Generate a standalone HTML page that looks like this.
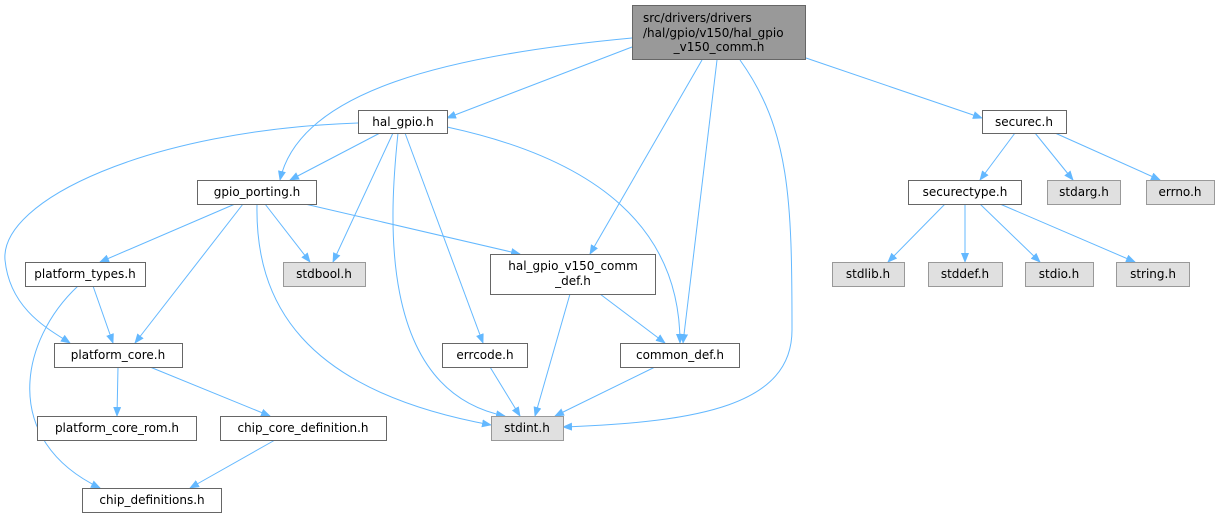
<!DOCTYPE html>
<html><head><meta charset="utf-8"><style>
html,body{margin:0;padding:0;background:#fff;}
svg{display:block;font-family:"DejaVu Sans","Liberation Sans",sans-serif;font-size:12px;}
.n{fill:#fff;stroke:#666;stroke-width:1;}
.g{fill:#e0e0e0;stroke:#999;stroke-width:1;}
.e{fill:none;stroke:#63b8ff;stroke-width:1;marker-end:url(#a);}
text{fill:#000;}
</style></head><body>
<svg width="1220" height="520" viewBox="0 0 1220 520">
<defs><marker id="a" markerWidth="10" markerHeight="8" refX="9" refY="4" orient="auto" markerUnits="userSpaceOnUse"><path d="M0,0 L10,4 L0,8 z" fill="#63b8ff"/></marker></defs>
<!-- edges -->
<path class="e" d="M632,47 L447,118"/>
<path class="e" d="M632,38 C450,55 300,90 280,180"/>
<path class="e" d="M702,60 L590,254"/>
<path class="e" d="M717,60 L683,343"/>
<path class="e" d="M740,60 C790,130 792,200 792,330 C792,405 700,422 563,427"/>
<path class="e" d="M806,58 L982,118"/>
<path class="e" d="M380,133 L290,180"/>
<path class="e" d="M358,123 C150,130 0,200 5,260 C10,310 50,330 70,343"/>
<path class="e" d="M393,133 L333,262"/>
<path class="e" d="M398,133 C390,210 375,390 505,416"/>
<path class="e" d="M405,133 L483,343"/>
<path class="e" d="M447,127 C600,160 680,230 680,343"/>
<path class="e" d="M235,204 L100,262"/>
<path class="e" d="M243,204 L135,343"/>
<path class="e" d="M265,204 L310,262"/>
<path class="e" d="M305,204 L520,254"/>
<path class="e" d="M257,204 C255,300 300,390 491,425"/>
<path class="e" d="M93,286 L113,343"/>
<path class="e" d="M78,286 C20,340 0,440 100,488"/>
<path class="e" d="M118,367 L117,416"/>
<path class="e" d="M150,367 L270,416"/>
<path class="e" d="M275,440 L190,488"/>
<path class="e" d="M570,294 L535,416"/>
<path class="e" d="M600,294 L665,343"/>
<path class="e" d="M490,367 L520,416"/>
<path class="e" d="M655,367 L555,416"/>
<path class="e" d="M1015,133 L980,180"/>
<path class="e" d="M1035,133 L1073,180"/>
<path class="e" d="M1055,133 L1160,180"/>
<path class="e" d="M945,204 L888,262"/>
<path class="e" d="M965,204 L965,262"/>
<path class="e" d="M980,204 L1040,262"/>
<path class="e" d="M1000,204 L1135,262"/>
<!-- nodes -->
<rect x="632.5" y="5.5" width="173" height="54" fill="#999" stroke="#666"/>
<text x="643" y="22">src/drivers/drivers</text>
<text x="643" y="37">/hal/gpio/v150/hal_gpio</text>
<text x="719" y="51" text-anchor="middle">_v150_comm.h</text>

<rect class="n" x="358.5" y="110.5" width="89" height="23"/><text x="403" y="126" text-anchor="middle">hal_gpio.h</text>
<rect class="n" x="982.5" y="110.5" width="84" height="23"/><text x="1024" y="126" text-anchor="middle">securec.h</text>
<rect class="n" x="197.5" y="180.5" width="119" height="24"/><text x="257" y="196" text-anchor="middle">gpio_porting.h</text>
<rect class="n" x="908.5" y="180.5" width="113" height="24"/><text x="965" y="196" text-anchor="middle">securectype.h</text>
<rect class="g" x="1047.5" y="180.5" width="73" height="24"/><text x="1084" y="196" text-anchor="middle">stdarg.h</text>
<rect class="g" x="1146.5" y="180.5" width="68" height="24"/><text x="1180" y="196" text-anchor="middle">errno.h</text>
<rect class="n" x="25.5" y="262.5" width="120" height="24"/><text x="85" y="278" text-anchor="middle">platform_types.h</text>
<rect class="g" x="283.5" y="262.5" width="82" height="24"/><text x="324" y="278" text-anchor="middle">stdbool.h</text>
<rect class="n" x="490.5" y="254.5" width="165" height="40"/><text x="573" y="270" text-anchor="middle">hal_gpio_v150_comm</text><text x="573" y="285" text-anchor="middle">_def.h</text>
<rect class="g" x="832.5" y="262.5" width="72" height="24"/><text x="868" y="278" text-anchor="middle">stdlib.h</text>
<rect class="g" x="928.5" y="262.5" width="74" height="24"/><text x="965" y="278" text-anchor="middle">stddef.h</text>
<rect class="g" x="1025.5" y="262.5" width="68" height="24"/><text x="1059" y="278" text-anchor="middle">stdio.h</text>
<rect class="g" x="1116.5" y="262.5" width="73" height="24"/><text x="1153" y="278" text-anchor="middle">string.h</text>
<rect class="n" x="54.5" y="343.5" width="128" height="24"/><text x="118" y="359" text-anchor="middle">platform_core.h</text>
<rect class="n" x="442.5" y="343.5" width="85" height="24"/><text x="485" y="359" text-anchor="middle">errcode.h</text>
<rect class="n" x="620.5" y="343.5" width="119" height="24"/><text x="680" y="359" text-anchor="middle">common_def.h</text>
<rect class="n" x="37.5" y="416.5" width="159" height="24"/><text x="117" y="432" text-anchor="middle">platform_core_rom.h</text>
<rect class="n" x="220.5" y="416.5" width="166" height="24"/><text x="303" y="432" text-anchor="middle">chip_core_definition.h</text>
<rect class="g" x="491.5" y="416.5" width="72" height="24"/><text x="527" y="432" text-anchor="middle">stdint.h</text>
<rect class="n" x="82.5" y="488.5" width="139" height="24"/><text x="152" y="504" text-anchor="middle">chip_definitions.h</text>
</svg>
</body></html>
